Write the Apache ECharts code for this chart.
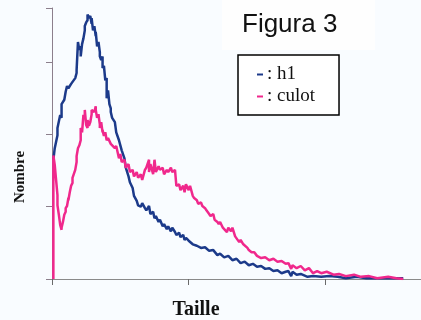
<!DOCTYPE html>
<html>
<head>
<meta charset="utf-8">
<script src="https://cdn.jsdelivr.net/npm/echarts@6/dist/echarts.min.js"></script>
<style>
  html, body { margin: 0; padding: 0; background: #f9fcff; }
  #chart { width: 421px; height: 320px; }
</style>
</head>
<body>
<div id="chart"></div>
<script>
// Size distribution histograms (Taille vs Nombre)
const seriesNames = ['h1', 'culot'];

const h1Values = [
  [1,165],[2,181],[4,199],[4,209],[6,227],[7,223],[7,242],[9,248],[10,259],[11,267],
  [12,264],[14,270],[15,268],[17,278],[18,285],[18,289],[19,328],[20,317],[21,322],[21,308],
  [22,325],[23,333],[24,344],[24,350],[25,355],[26,358],[26,366],[27,361],[28,364],[29,353],
  [29,361],[30,344],[31,350],[32,336],[32,342],[33,322],[34,328],[35,314],[35,308],[36,303],
  [37,308],[37,292],[38,295],[39,275],[40,278],[40,250],[41,261],[42,242],[43,236],[43,231],
  [44,223],[46,217],[47,203],[49,192],[50,185],[51,178],[53,167],[54,154],[56,142],[57,134],
  [59,126],[60,115],[62,108],[63,102],[65,100],[66,105],[68,98],[69,95],[71,101],[72,90],
  [74,93],[75,84],[76,87],[78,79],[79,82],[81,73],[82,76],[84,69],[85,73],[87,66],
  [88,71],[90,65],[91,61],[93,64],[94,58],[96,61],[97,54],[98,57],[100,53],[101,55],
  [103,48],[104,50],[106,46],[107,48],[109,43],[112,44],[115,39],[118,40],[121,33],[123,35],
  [126,30],[129,32],[132,26],[135,28],[138,22],[141,24],[144,19],[147,21],[150,17],[153,18],
  [156,14],[159,15],[162,11],[165,12],[168,8],[171,10],[173,11],[175,4],[176,10],[179,6],
  [182,7],[187,3],[191,4],[197,3],[203,4],[209,3],[215,1],[223,3],[230,1],[241,1],[257,1]
];

const culotValues = [
  [1,0],[1,165],[1,171],[2,158],[3,137],[4,116],[4,102],[5,89],[6,75],[7,68],
  [7,71],[8,79],[9,89],[10,93],[10,98],[11,101],[12,112],[12,109],[13,120],[14,129],
  [15,133],[15,140],[16,142],[17,151],[18,162],[18,170],[19,181],[20,185],[21,192],[21,209],
  [22,203],[23,227],[24,223],[24,234],[25,213],[26,209],[26,220],[27,212],[28,217],[29,228],
  [29,234],[30,236],[31,231],[32,239],[32,234],[33,223],[34,228],[35,214],[35,209],[36,217],
  [37,203],[37,206],[38,198],[39,203],[40,192],[41,195],[43,187],[44,189],[46,181],[47,184],
  [49,167],[50,173],[51,162],[53,165],[54,154],[56,159],[57,148],[59,151],[60,142],[62,148],
  [63,140],[65,145],[66,137],[68,151],[69,154],[71,165],[71,148],[72,159],[74,145],[75,165],
  [76,148],[78,156],[79,151],[81,154],[82,145],[84,151],[85,148],[87,154],[88,148],[90,151],
  [91,129],[93,131],[94,123],[96,129],[97,120],[98,131],[100,123],[101,129],[103,115],[104,112],
  [106,109],[107,104],[109,106],[110,101],[112,98],[113,95],[115,90],[116,87],[118,90],[119,82],
  [121,79],[122,76],[123,79],[125,71],[126,73],[128,65],[129,71],[131,66],[132,71],[134,59],
  [135,57],[137,51],[138,54],[140,48],[141,46],[143,43],[144,40],[146,37],[147,35],[148,37],
  [150,32],[151,33],[153,29],[156,30],[159,26],[162,28],[165,24],[168,25],[171,21],[173,22],
  [175,14],[176,19],[179,15],[182,18],[185,12],[188,15],[191,8],[194,11],[197,8],[201,10],
  [206,6],[210,7],[215,4],[221,6],[226,3],[232,4],[238,1],[246,3],[252,1],[257,0]
];

const colors = ['#1c3a8a', '#f0288c'];
const serif = '"Liberation Serif", "Times New Roman", serif';
const sans = '"Liberation Sans", Arial, sans-serif';

const chart = echarts.init(document.getElementById('chart'), null, { renderer: 'canvas' });

chart.setOption({
  animation: false,
  backgroundColor: '#f9fcff',
  title: {
    text: 'Figura 3',
    left: 242,
    top: 12,
    padding: 0,
    textStyle: { fontFamily: sans, fontSize: 26, fontWeight: 'normal', color: '#111' }
  },
  legend: {
    data: seriesNames,
    orient: 'vertical',
    left: 238,
    top: 55,
    padding: [10, 24, 9, 19],
    itemGap: 3,
    itemWidth: 6,
    itemHeight: 2,
    icon: 'rect',
    borderColor: '#000',
    borderWidth: 1.5,
    backgroundColor: '#ffffff',
    formatter: name => ': ' + name,
    textStyle: { fontFamily: serif, fontSize: 19, color: '#111', padding: [0, 0, 0, -1] }
  },
  grid: { left: 52, right: 0, top: 8, bottom: 41 },
  xAxis: {
    type: 'value',
    min: 0,
    max: 270,
    interval: 100,
    axisLine: { show: true, lineStyle: { color: '#8a8a8a', width: 1 } },
    axisTick: { show: true, length: 6, lineStyle: { color: '#6a6a6a' } },
    axisLabel: { show: false },
    splitLine: { show: false }
  },
  yAxis: {
    type: 'value',
    min: 0,
    max: 375,
    interval: 100,
    axisLine: { show: true, lineStyle: { color: '#8c7f8c', width: 1 } },
    axisTick: { show: true, length: 6, lineStyle: { color: '#8c7f8c' } },
    axisLabel: { show: false },
    splitLine: { show: false }
  },
  graphic: [
    {
      type: 'rect', z: -1, silent: true,
      shape: { x: 222, y: 0, width: 153, height: 50 },
      style: { fill: '#fefefe' }
    },
    {
      type: 'text', x: 20, y: 177, rotation: Math.PI / 2,
      style: {
        text: 'Nombre', font: 'bold 15px ' + serif, fill: '#111',
        align: 'center', verticalAlign: 'middle'
      }
    },
    {
      type: 'text', x: 196, y: 310,
      style: {
        text: 'Taille', font: 'bold 20px ' + serif, fill: '#111',
        align: 'center', verticalAlign: 'middle'
      }
    }
  ],
  series: [
    {
      name: seriesNames[0], type: 'line', data: h1Values,
      showSymbol: false, color: colors[0],
      lineStyle: { width: 2.5, color: colors[0] }
    },
    {
      name: seriesNames[1], type: 'line', data: culotValues,
      showSymbol: false, color: colors[1],
      lineStyle: { width: 2.5, color: colors[1] }
    }
  ]
});
</script>
</body>
</html>
